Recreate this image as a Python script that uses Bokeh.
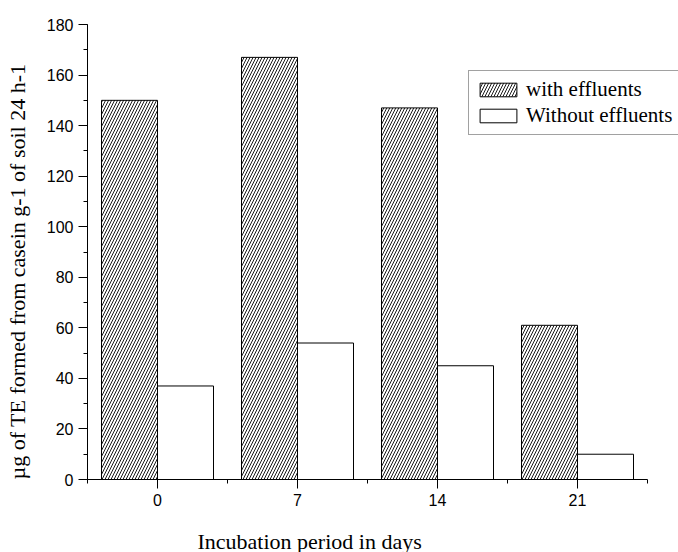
from bokeh.plotting import figure
from bokeh.models import (Range1d, FixedTicker, SingleIntervalTicker, Legend, LegendItem,
                          ColumnDataSource, Title)
from bokeh.transform import dodge
from bokeh.embed import file_html
from bokeh.resources import INLINE

# ---- data ----
days = ["0", "7", "14", "21"]
with_effluents = [150, 167, 147, 61]
without_effluents = [37, 54, 45, 10]
y_label = "µg of TE formed from casein g-1 of soil 24 h-1"
x_label = "Incubation period in days"

# ---- layout constants ----
W, H = 678, 552
LEFT, TOP, BOTTOM = 87, 24, 73
GROUP_PX = 140.0
frame_w = W - LEFT
x_end = -0.5 + frame_w / GROUP_PX

idx = list(range(len(days)))
src = ColumnDataSource(dict(x=idx, w=with_effluents, wo=without_effluents))

p = figure(width=W, height=H, output_backend="svg", toolbar_location=None,
           x_range=Range1d(-0.5, x_end), y_range=Range1d(0, 180),
           min_border_left=LEFT, min_border_top=TOP, min_border_right=0, min_border_bottom=BOTTOM)
p.outline_line_color = None
p.xgrid.visible = False
p.ygrid.visible = False
p.background_fill_color = "white"
p.border_fill_color = "white"

r1 = p.vbar(x=dodge("x", -0.2, range=p.x_range), top="w", width=0.4, source=src,
            fill_color="white", line_color="black", line_width=1,
            hatch_pattern="/", hatch_color="black", hatch_scale=6, hatch_weight=0.9)
r2 = p.vbar(x=dodge("x", 0.2, range=p.x_range), top="wo", width=0.4, source=src,
            fill_color="white", line_color="black", line_width=1)

# x axis
xa = p.xaxis[0]
xa.ticker = FixedTicker(ticks=idx, minor_ticks=[i - 0.5 for i in idx] + [len(days) - 0.5])
xa.major_label_overrides = {i: d for i, d in zip(idx, days)}
xa.bounds = (-0.5, len(days) - 0.5)
ya = p.yaxis[0]
ya.ticker = SingleIntervalTicker(interval=20, num_minor_ticks=2)

for ax in (xa, ya):
    ax.axis_line_color = "black"
    ax.axis_line_width = 1
    ax.major_tick_line_color = "black"
    ax.minor_tick_line_color = "black"
    ax.major_tick_out = 9
    ax.major_tick_in = 0
    ax.minor_tick_out = 4
    ax.minor_tick_in = 0
    ax.major_label_text_font = "Liberation Sans"
    ax.major_label_text_font_size = "16px"
    ax.major_label_text_color = "black"
    ax.major_label_standoff = 5
    # spacers between tick labels and the offset titles
    ax.axis_label = " "
    ax.axis_label_text_font_size = "1px"

xa.axis_label_standoff = 17
ya.axis_label_standoff = 10

# axis titles, offset as in the reference
xt = Title(text=x_label, align="left", offset=110, vertical_align="bottom", standoff=-6,
           text_font="Liberation Serif", text_font_size="22px", text_font_style="normal",
           text_color="black")
yt = Title(text=y_label, align="left", offset=0, vertical_align="bottom", standoff=0,
           text_font="Liberation Serif", text_font_size="22px", text_font_style="normal",
           text_color="black")
p.add_layout(xt, "below")
p.add_layout(yt, "left")

legend = Legend(items=[LegendItem(label="with effluents", renderers=[r1]),
                       LegendItem(label="Without effluents", renderers=[r2])],
                location=(381, 344))
legend.label_text_font = "Liberation Serif"
legend.label_text_font_size = "21px"
legend.label_text_color = "black"
legend.glyph_width = 46
legend.glyph_height = 17
legend.label_standoff = 5
legend.label_height = 17
legend.spacing = 1
legend.padding = 6
legend.margin = 0
legend.border_line_color = "#444444"
legend.border_line_width = 1
legend.background_fill_color = "white"
legend.background_fill_alpha = 1
p.add_layout(legend, "center")

open("out.html", "w").write(file_html(p, INLINE))
